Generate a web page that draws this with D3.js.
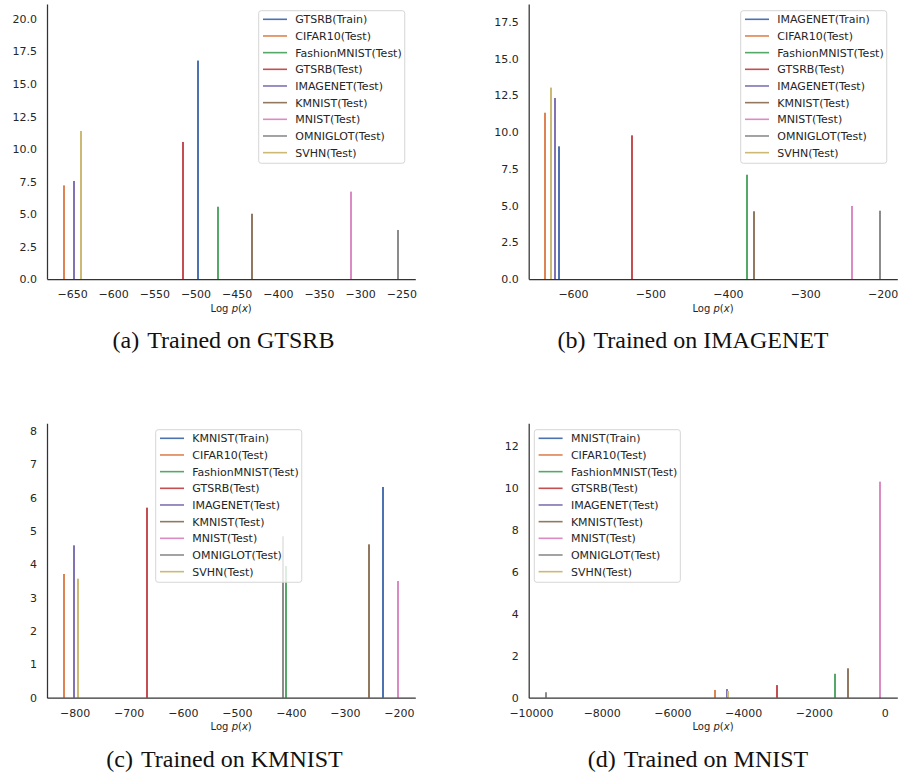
<!DOCTYPE html>
<html>
<head>
<meta charset="utf-8">
<script src="https://cdnjs.cloudflare.com/ajax/libs/d3/7.8.5/d3.min.js"></script>
<style>
  body { margin: 0; background: #fff; }
  .tick text { font-family: "DejaVu Sans", sans-serif; font-size: 11px; fill: #262626; }
  .spine path { stroke: #333; stroke-width: 1.25; }
  .legend text { font-family: "DejaVu Sans", sans-serif; font-size: 11px; fill: #262626; }
  .xlabel { font-family: "DejaVu Sans", sans-serif; font-size: 10px; fill: #262626; }
  .caption { font-family: "Liberation Serif", "Times New Roman", serif; font-size: 24px; fill: #111; }
</style>
</head>
<body>
<script>
// datasets, in legend order (first one is the training set)
var testSets = ["CIFAR10", "FashionMNIST", "GTSRB", "IMAGENET", "KMNIST", "MNIST", "OMNIGLOT", "SVHN"];

// (a) trained on GTSRB
var aLogp    = [-497.2, -660.0, -472.5, -515.4, -648.0, -431.2, -311.2, -254.0, -639.4];
var aDensity = [16.8, 7.2, 5.56, 10.54, 7.54, 5.02, 6.72, 3.77, 11.38];
var aYTicks  = [0, 2.5, 5, 7.5, 10, 12.5, 15, 17.5, 20];
var aXTicks  = [-650, -600, -550, -500, -450, -400, -350, -300, -250];

// (b) trained on IMAGENET
var bLogp    = [-618.1, -635.8, -375.3, -523.8, -623.6, -366.6, -239.2, -203.4, -628.8];
var bDensity = [9.03, 11.32, 7.1, 9.78, 12.32, 4.61, 4.97, 4.65, 13.03];
var bYTicks  = [0, 2.5, 5, 7.5, 10, 12.5, 15, 17.5];
var bXTicks  = [-600, -500, -400, -300, -200];

// (c) trained on KMNIST
var cLogp    = [-229.7, -820.3, -409.1, -666.3, -800.7, -256.2, -201.9, -414.9, -793.9];
var cDensity = [6.32, 3.71, 3.95, 5.7, 4.57, 4.6, 3.5, 4.84, 3.57];
var cYTicks  = [0, 1, 2, 3, 4, 5, 6, 7, 8];
var cXTicks  = [-800, -700, -600, -500, -400, -300, -200];

// (d) trained on MNIST
var dLogp    = [-141, -4790, -1414, -3036, -4468, -1046, -141, -9584, -4421];
var dDensity = [10.2, 0.37, 1.14, 0.6, 0.41, 1.4, 10.29, 0.26, 0.32];
var dYTicks  = [0, 2, 4, 6, 8, 10, 12];
var dXTicks  = [-10000, -8000, -6000, -4000, -2000, 0];

// seaborn "deep"
var colors = ["#4C72B0", "#DD8452", "#55A868", "#C44E52", "#8172B3", "#937860", "#DA8BC3", "#8C8C8C", "#CCB974"];

var svg = d3.select("body").append("svg")
    .attr("width", 900)
    .attr("height", 775);

function drawPanel(p) {
  var labels = [p.train + "(Train)"].concat(testSets.map(function(s) { return s + "(Test)"; }));
  var data = labels.map(function(l, i) { return {label: l, logp: p.logp[i], density: p.density[i]}; });

  var x = d3.scaleLinear().domain(p.xDomain).range([p.left, p.right]);
  var y = d3.scaleLinear().domain([0, p.yMax]).range([p.bottom, p.top]);

  var g = svg.append("g");

  // histogram spikes
  g.selectAll("rect.bar")
    .data(data)
    .enter().append("rect")
      .attr("class", "bar")
      .attr("x", function(d) { return Math.round(x(d.logp)) - 1; })
      .attr("width", 2)
      .attr("y", function(d) { return y(d.density); })
      .attr("height", function(d) { return y(0) - y(d.density); })
      .attr("fill", function(d, i) { return colors[i]; });

  // axes, no tick marks (seaborn white)
  g.append("g")
    .attr("class", "spine")
    .attr("transform", "translate(" + p.left + ",0)")
    .call(d3.axisLeft(y).tickValues(p.yTicks).tickSize(0).tickSizeOuter(0).tickPadding(10)
      .tickFormat(p.yFmt));

  g.append("g")
    .attr("class", "spine")
    .attr("transform", "translate(0," + p.bottom + ")")
    .call(d3.axisBottom(x).tickValues(p.xTicks).tickSize(0).tickSizeOuter(0).tickPadding(11.5)
      .tickFormat(d3.format("d")));

  g.selectAll(".tick line").remove();

  var xl = g.append("text")
    .attr("class", "xlabel")
    .attr("x", (p.left + p.right) / 2)
    .attr("y", p.bottom + 32.5)
    .attr("text-anchor", "middle");
  xl.append("tspan").text("Log ");
  xl.append("tspan").attr("font-style", "italic").text("p");
  xl.append("tspan").text("(");
  xl.append("tspan").attr("font-style", "italic").text("x");
  xl.append("tspan").text(")");

  // legend
  var lg = g.append("g")
    .attr("class", "legend")
    .attr("transform", "translate(" + p.legX + "," + p.legY + ")");
  var frame = lg.append("rect")
    .attr("rx", 2.5)
    .attr("fill", "#fff")
    .attr("fill-opacity", 0.8)
    .attr("stroke", "#d6d6d6")
    .attr("stroke-width", 1);
  var items = lg.selectAll("g.item")
    .data(data)
    .enter().append("g")
      .attr("class", "item")
      .attr("transform", function(d, i) { return "translate(0," + (8.6 + i * 16.67) + ")"; });
  items.append("line")
    .attr("x1", 4.3).attr("x2", 28.3)
    .attr("stroke", function(d, i) { return colors[i]; })
    .attr("stroke-width", 1.6);
  items.append("text")
    .attr("x", 36.6)
    .attr("dy", "0.36em")
    .text(function(d) { return d.label; });
  var w = 0;
  items.selectAll("text").each(function() { w = Math.max(w, this.getComputedTextLength()); });
  frame.attr("width", 36.6 + w + 3).attr("height", 8.6 + 8 * 16.67 + 10.6);

  // caption
  var cap = svg.append("text")
    .attr("class", "caption")
    .attr("x", p.capX)
    .attr("y", p.capY)
    .attr("text-anchor", "middle");
  cap.append("tspan").text("(" + p.tag + ")");
  cap.append("tspan").attr("dx", 8).text("Trained on " + p.train);
}

var f1 = d3.format(".1f");

drawPanel({tag: "a", train: "GTSRB", logp: aLogp, density: aDensity, yTicks: aYTicks, xTicks: aXTicks,
  yFmt: f1, xDomain: [-680.4, -233], yMax: 21.15,
  left: 47, right: 415.3, top: 4, bottom: 279, legX: 258.7, legY: 10.7, capX: 223.5, capY: 348.3});

drawPanel({tag: "b", train: "IMAGENET", logp: bLogp, density: bDensity, yTicks: bYTicks, xTicks: bXTicks,
  yFmt: f1, xDomain: [-657.2, -181.1], yMax: 18.72,
  left: 528.7, right: 897.3, top: 4, bottom: 279, legX: 740.7, legY: 10.7, capX: 693, capY: 348.3});

drawPanel({tag: "c", train: "KMNIST", logp: cLogp, density: cDensity, yTicks: cYTicks, xTicks: cXTicks,
  yFmt: d3.format("d"), xDomain: [-851.2, -169.8], yMax: 8.23,
  left: 47, right: 415.3, top: 423.3, bottom: 697.7, legX: 155.7, legY: 429.7, capX: 224.5, capY: 766.7});

drawPanel({tag: "d", train: "MNIST", logp: dLogp, density: dDensity, yTicks: dYTicks, xTicks: dXTicks,
  yFmt: d3.format("d"), xDomain: [-10065, 356], yMax: 13.07,
  left: 528.7, right: 897.3, top: 423.3, bottom: 697.7, legX: 534.3, legY: 429.7, capX: 698, capY: 766.7});
</script>
</body>
</html>
